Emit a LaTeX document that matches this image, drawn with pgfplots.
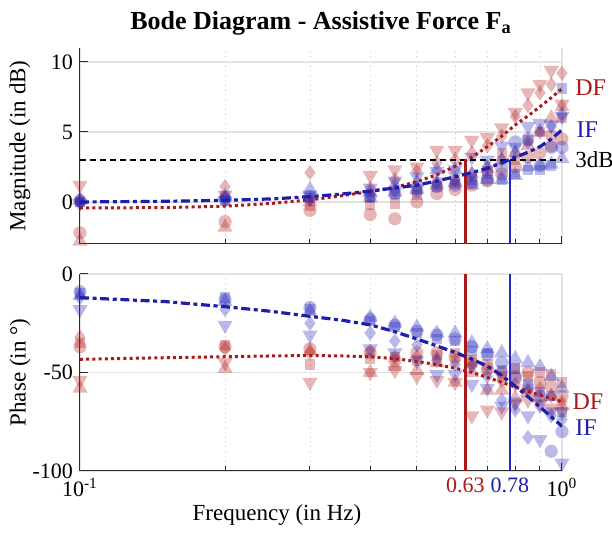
\documentclass[border=0pt]{standalone}
\usepackage{pgfplots}
\pgfplotsset{compat=1.18}
\usepackage{pgfplotstable}
\usepackage{fontspec}
\setmainfont{Liberation Serif}

\definecolor{dfmk}{RGB}{180,30,30}
\definecolor{ifmk}{RGB}{40,40,190}
\definecolor{dfl}{RGB}{170,25,25}
\definecolor{ifl}{RGB}{30,30,170}
\definecolor{axc}{RGB}{45,45,45}

% magnitude (dB): DF = d*, IF = i*; o circle, s square, d diamond, u triangle up, v triangle down
\pgfplotstableread{
f     do    ds    dd    du    dv    io    is    id    iu    iv
0.1  -2.2   0.0   0.2  -2.8   1.2   0.1   0.0   0.0   0.1  -0.1
0.2  -1.4   0.4   1.1  -1.8   0.5   0.2   0.1   0.3   0.4   0.1
0.3  -0.6  -0.3   2.1   0.0   0.2   0.4   0.3   0.2   0.9   0.5
0.4  -0.9  -0.2   1.0   0.3   1.9   0.4   0.3   0.5   0.7   1.0
0.45 -1.2  -0.1   1.6   0.7   2.3   0.6   0.6   0.8   1.2   1.5
0.5   0.0   0.5   2.2   0.9   2.5   0.8   0.9   1.0   1.4   1.8
0.55  0.6   1.4   2.8   1.2   3.7   1.1   1.1   1.4   2.3   2.2
0.6   0.9   1.6   3.0   1.4   3.7   1.2   1.3   1.6   2.3   2.3
0.65  1.2   1.8   3.5   2.0   4.4   1.4   1.6   2.0   1.2   3.2
0.7   1.5   2.2   4.0   2.4   4.6   1.6   2.0   2.5   1.6   3.0
0.75  2.0   3.5   4.7   3.0   5.3   2.4   1.6   3.0   1.6   4.0
0.8   2.5   3.0   6.1   3.5   6.4   4.3   2.0   3.5   1.9   3.9
0.85  3.2   4.4   6.9   4.0   7.8   4.5   2.3   4.3   2.5   5.4
0.9   3.5   5.0   7.8   5.0   8.4   2.6   2.3   5.0   2.6   5.6
0.95  4.0   4.8   8.4   6.0   9.4   3.9   2.6   5.4   2.7   5.5
1.0   4.5   6.0   9.2   6.8   7.0   3.9   8.1   6.3   3.1   6.1
}\magtab

\pgfplotstableread{
f     do    ds    dd    du    dv    io    is    id    iu    iv
0.1  -37   -35   -32   -58   -54    -9   -10   -12   -11   -18
0.2  -37   -36   -38   -48   -45   -13   -12   -18   -14   -26
0.3  -38   -46   -40   -39   -55   -17   -18   -25   -19   -31
0.4  -40   -43   -39   -50   -50   -23   -24   -30   -22   -38
0.45 -44   -42   -42   -47   -49   -26   -27   -34   -25   -40
0.5  -40   -44   -42   -49   -52   -29   -30   -36   -27   -44
0.55 -40   -41   -44   -45   -54   -31   -33   -43   -30   -51
0.6  -42   -40   -44   -55   -55   -33   -34   -46   -30   -51
0.65 -45   -44   -46   -50   -72   -37   -39   -47   -35   -56
0.7  -48   -46   -50   -59   -69   -41   -40   -52   -38   -58
0.75 -50   -52   -54   -59   -70   -45   -49   -64   -40   -67
0.8  -52   -48   -56   -63   -66   -53   -48   -69   -43   -65
0.85 -50   -52   -59   -60   -64   -58   -56   -83   -45   -72
0.9  -55   -50   -58   -63   -66   -62   -60   -67   -47   -84
0.95 -57   -51   -62   -62   -68   -90   -62   -72   -52   -70
1.0  -62   -55   -65   -67   -70   -80   -70   -74   -58   -96
}\phtab

\pgfplotstableread{
f     DF     IF
0.1  -0.43   0.00
0.15 -0.40   0.05
0.2  -0.30   0.12
0.25 -0.10   0.22
0.3   0.15   0.38
0.35  0.45   0.57
0.4   0.75   0.78
0.45  1.05   1.00
0.5   1.45   1.20
0.55  1.95   1.50
0.6   2.55   1.80
0.65  3.20   2.10
0.7   3.95   2.40
0.75  4.70   2.80
0.8   5.50   3.20
0.85  6.15   3.55
0.9   6.80   3.95
0.95  7.45   4.50
1.0   8.10   5.15
}\magfit

\pgfplotstableread{
f     DF     IF
0.1  -43.3  -12.0
0.15 -42.5  -14.0
0.2  -42.0  -16.6
0.25 -41.6  -19.0
0.3  -41.4  -21.5
0.35 -41.6  -23.5
0.4  -42.0  -25.8
0.45 -43.0  -29.3
0.5  -44.4  -33.0
0.55 -46.0  -36.5
0.6  -47.8  -39.8
0.65 -49.9  -43.2
0.7  -52.5  -46.8
0.75 -55.0  -51.5
0.8  -57.4  -57.0
0.85 -59.5  -62.3
0.9  -61.5  -67.5
0.95 -63.2  -72.5
1.0  -64.9  -77.3
}\phfit

\pgfplotsset{
  mksc/.style n args={3}{only marks, color=#1, mark=#2, mark size=#3,
     mark options={fill=#1, draw=#1, draw opacity=0, fill opacity=0.32}},
  mkscv/.style n args={2}{only marks, color=#1, mark=triangle*, mark size=#2,
     mark options={fill=#1, draw=#1, draw opacity=0, fill opacity=0.32, rotate=180}},
  dfline/.style={dfl, line width=1.5pt, dash pattern=on 1.5pt off 1.6pt},
  ifline/.style={ifl, line width=1.6pt, dash pattern=on 4.5pt off 1.8pt on 2pt off 1.8pt},
}

\begin{document}
\begin{tikzpicture}
\path[use as bounding box] (-40pt,-144.5pt) rectangle (266pt,122pt);

% ---------------- magnitude ----------------
\begin{axis}[at={(0pt,0pt)}, anchor=south west, height=98pt,
  xmode=log, xmin=0.1, xmax=1, scale only axis, width=241pt,
  axis x line*=bottom, axis y line*=left,
  axis line style={axc, line width=0.5pt},
  tick align=inside, major tick length=4pt, minor tick length=2.5pt,
  tick style={axc, line width=0.5pt},
  xtick={0.1,1}, minor xtick={0.2,0.3,0.4,0.5,0.6,0.7,0.8,0.9},
  ymajorgrids, xmajorgrids, xminorgrids,
  major grid style={gray!22, line width=0.6pt},
  minor grid style={gray!45, dotted, line width=0.4pt},
  tick label style={font=\fontsize{11}{13}\selectfont},
  clip mode=individual,
  ymin=-3, ymax=11, ytick={0,5,10}, yticklabels={0,5,10}, xticklabels={}]
\addplot[mksc={dfmk}{*}{3.3pt}] table[x=f,y=do]{\magtab};
\addplot[mksc={dfmk}{square*}{2.6pt}] table[x=f,y=ds]{\magtab};
\addplot[mksc={dfmk}{diamond*}{3.8pt}] table[x=f,y=dd]{\magtab};
\addplot[mksc={dfmk}{triangle*}{4.4pt}] table[x=f,y=du]{\magtab};
\addplot[mkscv={dfmk}{4.4pt}] table[x=f,y=dv]{\magtab};
\addplot[mksc={ifmk}{*}{3.3pt}] table[x=f,y=io]{\magtab};
\addplot[mksc={ifmk}{square*}{2.6pt}] table[x=f,y=is]{\magtab};
\addplot[mksc={ifmk}{diamond*}{3.8pt}] table[x=f,y=id]{\magtab};
\addplot[mksc={ifmk}{triangle*}{4.4pt}] table[x=f,y=iu]{\magtab};
\addplot[mkscv={ifmk}{4.4pt}] table[x=f,y=iv]{\magtab};
\addplot[black, line width=0.9pt, dash pattern=on 3.2pt off 1.8pt] coordinates {(0.1,3) (1,3)};
\addplot[dfl, line width=1.3pt] coordinates {(0.63,-3) (0.63,3)};
\addplot[ifmk, line width=1.3pt] coordinates {(0.78,-3) (0.78,3)};
\addplot[dfline] table[x=f,y=DF]{\magfit};
\addplot[ifline] table[x=f,y=IF]{\magfit};
\node[anchor=west, text=dfl, font=\fontsize{12}{14}\selectfont, inner sep=0pt] at (axis cs:1.064,8.2) {DF};
\node[anchor=west, text=ifl, font=\fontsize{12}{14}\selectfont, inner sep=0pt] at (axis cs:1.07,5.2) {IF};
\node[anchor=west, text=black, font=\fontsize{11.5}{13}\selectfont, inner sep=0pt] at (axis cs:1.064,3.0) {3dB};
\end{axis}

% ---------------- phase ----------------
\begin{axis}[at={(0pt,-15pt)}, anchor=north west, height=98.5pt,
  xmode=log, xmin=0.1, xmax=1, scale only axis, width=241pt,
  axis x line*=bottom, axis y line*=left,
  axis line style={axc, line width=0.5pt},
  tick align=inside, major tick length=4pt, minor tick length=2.5pt,
  tick style={axc, line width=0.5pt},
  xtick={0.1,1}, minor xtick={0.2,0.3,0.4,0.5,0.6,0.7,0.8,0.9},
  ymajorgrids, xmajorgrids, xminorgrids,
  major grid style={gray!22, line width=0.6pt},
  minor grid style={gray!45, dotted, line width=0.4pt},
  tick label style={font=\fontsize{11}{13}\selectfont},
  clip mode=individual,
  ymin=-100, ymax=0, ytick={-100,-50,0}, yticklabels={-100,-50,0},
  xticklabels={10\textsuperscript{-1},10\textsuperscript{0}},
  extra x ticks={0.63,0.78},
  extra x tick labels={\textcolor{dfl}{0.63},\textcolor{ifl}{0.78}},
  extra x tick style={grid=none, major tick length=0pt}]
\addplot[mksc={dfmk}{*}{3.3pt}] table[x=f,y=do]{\phtab};
\addplot[mksc={dfmk}{square*}{2.6pt}] table[x=f,y=ds]{\phtab};
\addplot[mksc={dfmk}{diamond*}{3.8pt}] table[x=f,y=dd]{\phtab};
\addplot[mksc={dfmk}{triangle*}{4.4pt}] table[x=f,y=du]{\phtab};
\addplot[mkscv={dfmk}{4.4pt}] table[x=f,y=dv]{\phtab};
\addplot[mksc={ifmk}{*}{3.3pt}] table[x=f,y=io]{\phtab};
\addplot[mksc={ifmk}{square*}{2.6pt}] table[x=f,y=is]{\phtab};
\addplot[mksc={ifmk}{diamond*}{3.8pt}] table[x=f,y=id]{\phtab};
\addplot[mksc={ifmk}{triangle*}{4.4pt}] table[x=f,y=iu]{\phtab};
\addplot[mkscv={ifmk}{4.4pt}] table[x=f,y=iv]{\phtab};
\addplot[dfl, line width=1.3pt] coordinates {(0.63,-100) (0.63,0)};
\addplot[ifmk, line width=1.3pt] coordinates {(0.78,-100) (0.78,0)};
\addplot[dfline] table[x=f,y=DF]{\phfit};
\addplot[ifline] table[x=f,y=IF]{\phfit};
\node[anchor=west, text=dfl, font=\fontsize{12}{14}\selectfont, inner sep=0pt] at (axis cs:1.05,-65) {DF};
\node[anchor=west, text=ifl, font=\fontsize{12}{14}\selectfont, inner sep=0pt] at (axis cs:1.064,-77.8) {IF};
\end{axis}

% ---------------- texts ----------------
\node[anchor=base, font=\fontsize{13}{15}\selectfont\bfseries] at (120.5pt,107pt) {Bode Diagram - Assistive Force F\textsubscript{a}};
\node[rotate=90, font=\fontsize{11.5}{13}\selectfont] at (-30pt,49pt) {Magnitude (in dB)};
\node[rotate=90, font=\fontsize{11.5}{13}\selectfont] at (-30pt,-64.3pt) {Phase (in °)};
\node[font=\fontsize{11.5}{13}\selectfont] at (98.5pt,-135.5pt) {Frequency (in Hz)};
\end{tikzpicture}
\end{document}
